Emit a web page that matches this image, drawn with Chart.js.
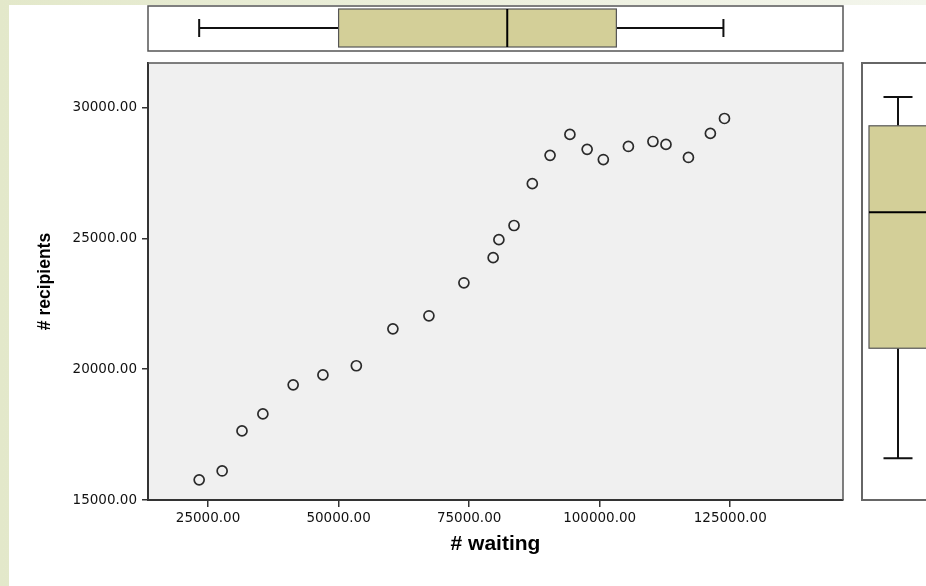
<!DOCTYPE html>
<html>
<head>
<meta charset="utf-8">
<script src="https://cdn.jsdelivr.net/npm/chart.js@4"></script>
<style>
  html, body { margin: 0; padding: 0; }
  body {
    width: 926px; height: 586px; overflow: hidden;
    background: linear-gradient(to right, #e3e8ca, #eef1e0 60%, #f3f5ec);
  }
  #wrap {
    position: absolute; left: 9px; top: 5px;
    width: 917px; height: 581px; background: #fff;
  }
</style>
</head>
<body>
<div id="wrap"><canvas id="scatterChart"></canvas></div>
<script>
// # waiting / # recipients
const waiting = [23300, 27700, 31500, 35500, 41300, 47000, 53400, 60400, 67300, 74000, 79600, 80700,
  83600, 87100, 90500, 94300, 97600, 100700, 105500, 110200, 112700, 117000, 121200, 123900];
const recipients = [15770, 16110, 17640, 18290, 19400, 19780, 20130, 21540, 22040, 23300, 24260, 24950,
  25490, 27090, 28170, 28970, 28400, 28010, 28510, 28700, 28590, 28090, 29010, 29580];

const xTicks = [25000, 50000, 75000, 100000, 125000];
const yTicks = [15000, 20000, 25000, 30000];

// boxplot stats: min, q1, median, q3, max
const waitingBox = [23300, 50000, 82300, 103200, 123700];
const recipientsBox = [16600, 20800, 26000, 29300, 30400];

const boxFill = '#d3cf98';

// fond gris de la zone de tracé
const plotBg = {
  id: 'plotBg',
  beforeDraw(chart) {
    const { ctx, chartArea: a } = chart;
    ctx.save();
    ctx.fillStyle = '#f0f0f0';
    ctx.fillRect(a.left, a.top, a.right - a.left, a.bottom - a.top);
    ctx.restore();
  },
  afterDraw(chart) {
    const { ctx, chartArea: a } = chart;
    ctx.save();
    ctx.strokeStyle = '#555';
    ctx.lineWidth = 1.5;
    ctx.beginPath();
    ctx.moveTo(a.left, a.top);
    ctx.lineTo(a.right, a.top);
    ctx.lineTo(a.right, a.bottom);
    ctx.stroke();
    ctx.restore();
  }
};

// les deux boxplots marginaux
const marginBoxes = {
  id: 'marginBoxes',
  afterDraw(chart) {
    const { ctx, chartArea: a } = chart;
    const xs = chart.scales.x, ys = chart.scales.y;
    ctx.save();

    // en haut : # waiting
    const t = a.top - 57, b = a.top - 12;
    ctx.fillStyle = '#fff';
    ctx.fillRect(a.left, t, a.right - a.left, b - t);
    ctx.strokeStyle = '#555';
    ctx.lineWidth = 1.5;
    ctx.strokeRect(a.left, t, a.right - a.left, b - t);

    const [mn, q1, md, q3, mx] = waitingBox.map(v => xs.getPixelForValue(v));
    const cy = t + 22;
    ctx.strokeStyle = '#111';
    ctx.lineWidth = 2;
    ctx.beginPath();
    ctx.moveTo(mn, cy); ctx.lineTo(q1, cy);
    ctx.moveTo(q3, cy); ctx.lineTo(mx, cy);
    ctx.moveTo(mn, cy - 9); ctx.lineTo(mn, cy + 9);
    ctx.moveTo(mx, cy - 9); ctx.lineTo(mx, cy + 9);
    ctx.stroke();
    ctx.fillStyle = boxFill;
    ctx.fillRect(q1, t + 3, q3 - q1, b - t - 7);
    ctx.strokeStyle = '#555';
    ctx.lineWidth = 1.2;
    ctx.strokeRect(q1, t + 3, q3 - q1, b - t - 7);
    ctx.strokeStyle = '#000';
    ctx.lineWidth = 2;
    ctx.beginPath();
    ctx.moveTo(md, t + 3); ctx.lineTo(md, b - 4);
    ctx.stroke();

    // à droite : # recipients
    const l = a.right + 19, r = chart.width + 20;
    ctx.fillStyle = '#fff';
    ctx.fillRect(l, a.top, r - l, a.bottom - a.top);
    ctx.strokeStyle = '#666';
    ctx.lineWidth = 2;
    ctx.strokeRect(l, a.top, r - l, a.bottom - a.top);

    const [ymn, yq1, ymd, yq3, ymx] = recipientsBox.map(v => ys.getPixelForValue(v));
    const cx = l + 36;
    ctx.strokeStyle = '#111';
    ctx.lineWidth = 2;
    ctx.beginPath();
    ctx.moveTo(cx, ymn); ctx.lineTo(cx, yq1);
    ctx.moveTo(cx, yq3); ctx.lineTo(cx, ymx);
    ctx.moveTo(cx - 14.5, ymn); ctx.lineTo(cx + 14.5, ymn);
    ctx.moveTo(cx - 14.5, ymx); ctx.lineTo(cx + 14.5, ymx);
    ctx.stroke();
    ctx.fillStyle = boxFill;
    ctx.fillRect(l + 7, yq3, r - l, yq1 - yq3);
    ctx.strokeStyle = '#555';
    ctx.lineWidth = 1.2;
    ctx.strokeRect(l + 7, yq3, r - l, yq1 - yq3);
    ctx.strokeStyle = '#000';
    ctx.lineWidth = 2;
    ctx.beginPath();
    ctx.moveTo(l + 7, ymd); ctx.lineTo(r, ymd);
    ctx.stroke();

    ctx.restore();
  }
};

const tickFont = { family: 'DejaVu Sans', size: 13.5 };

new Chart(document.getElementById('scatterChart'), {
  type: 'scatter',
  data: {
    datasets: [{
      data: waiting.map((w, i) => ({ x: w, y: recipients[i] })),
      pointRadius: 5,
      pointBorderWidth: 1.7,
      borderColor: '#2a2a2a',
      backgroundColor: '#f0f0f0'
    }]
  },
  options: {
    responsive: true,
    maintainAspectRatio: false,
    animation: false,
    layout: { padding: { left: 0, top: 58, right: 83, bottom: 0 } },
    plugins: {
      legend: { display: false },
      tooltip: { enabled: false }
    },
    scales: {
      x: {
        type: 'linear',
        min: 13500,
        max: 146600,
        afterBuildTicks: s => { s.ticks = xTicks.map(v => ({ value: v })); },
        afterFit: s => { s.height = 86; },
        ticks: {
          font: tickFont,
          color: '#111',
          padding: 3,
          maxRotation: 0,
          callback: v => v.toFixed(2)
        },
        grid: { drawOnChartArea: false, drawTicks: true, tickLength: 7, color: '#333', lineWidth: 1.5 },
        border: { display: true, color: '#333', width: 2 },
        title: {
          display: true, text: '# waiting', color: '#000',
          font: { family: 'Liberation Sans', size: 21, weight: 'bold' },
          padding: { top: 0, bottom: 29 }
        }
      },
      y: {
        type: 'linear',
        min: 15000,
        max: 31700,
        afterBuildTicks: s => { s.ticks = yTicks.map(v => ({ value: v })); },
        afterFit: s => { s.width = 139; },
        ticks: {
          font: tickFont,
          color: '#111',
          padding: 5,
          callback: v => v.toFixed(2)
        },
        grid: { drawOnChartArea: false, drawTicks: true, tickLength: 6, color: '#333', lineWidth: 1.5 },
        border: { display: true, color: '#333', width: 2 },
        title: {
          display: true, text: '# recipients', color: '#000',
          font: { family: 'Liberation Sans', size: 17.5, weight: 'bold' },
          padding: { top: 26, bottom: 0 }
        }
      }
    }
  },
  plugins: [plotBg, marginBoxes]
});
</script>
</body>
</html>
